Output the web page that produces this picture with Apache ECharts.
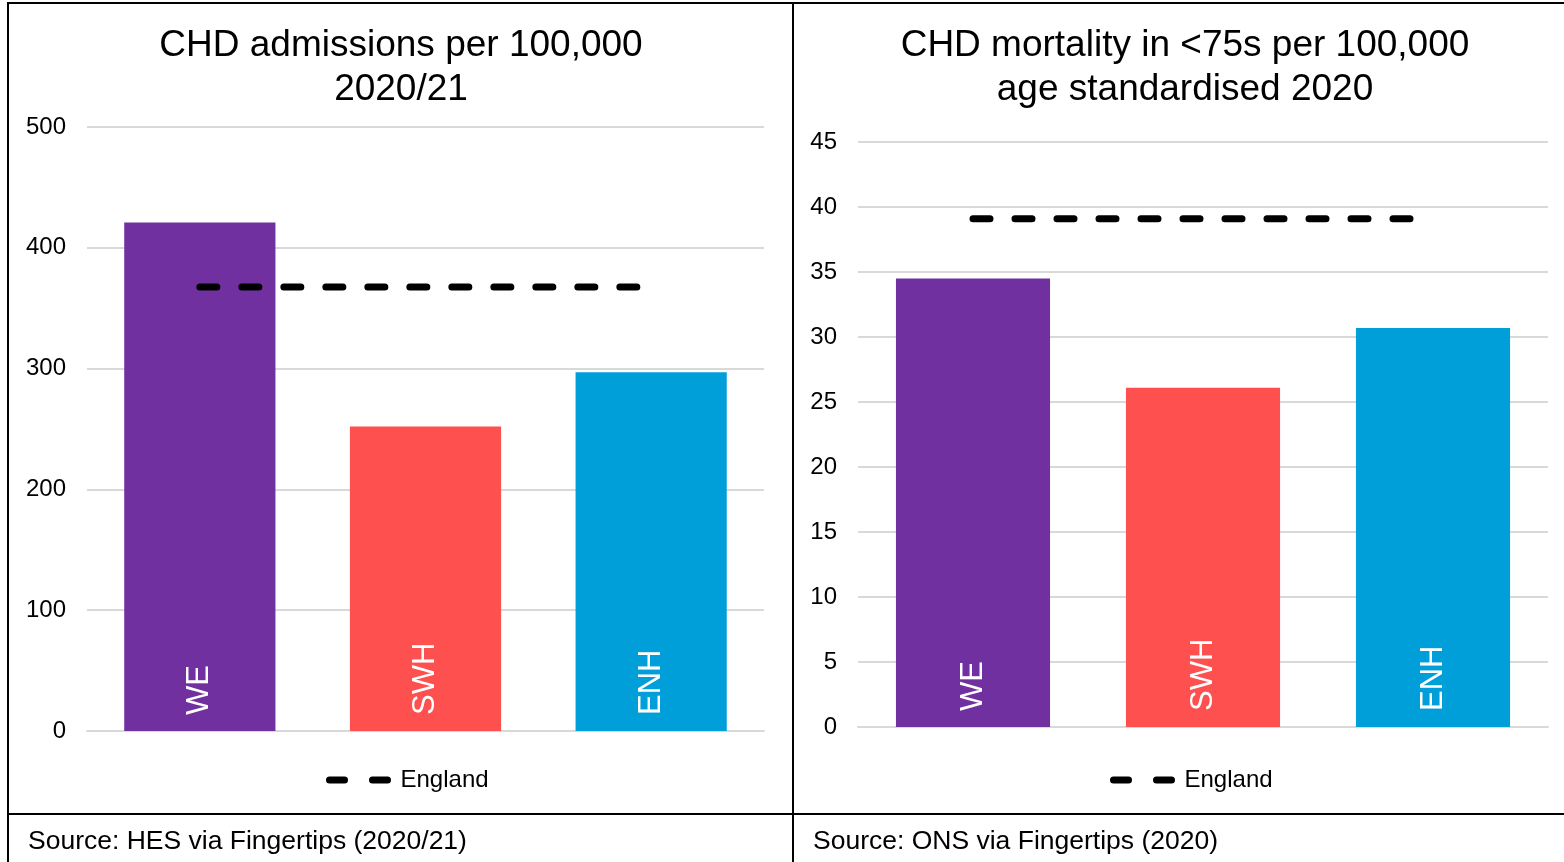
<!DOCTYPE html>
<html>
<head>
<meta charset="utf-8">
<script src="https://cdn.jsdelivr.net/npm/echarts@6/dist/echarts.min.js"></script>
<style>
  html, body { margin: 0; padding: 0; background: #fff; }
  #chart { width: 1564px; height: 862px; }
</style>
</head>
<body>
<div id="chart"></div>
<script>
// data
const categories = ["WE", "SWH", "ENH"];
const barColors = ["#7030A0", "#FF5050", "#009FDA"];

const admissions = [421, 252, 297];
const admissionsEngland = [367.5, 367.5, 367.5];

const mortality = [34.5, 26.1, 30.7];
const mortalityEngland = [39.1, 39.1, 39.1];

const FONT = "'Liberation Sans', Arial, sans-serif";

function barSeries(values, xi) {
  return {
    type: "bar",
    xAxisIndex: xi,
    yAxisIndex: xi,
    barCategoryGap: "33%",
    data: values.map((v, i) => ({ value: v, itemStyle: { color: barColors[i] } })),
    label: {
      show: true,
      formatter: "{b}",
      position: "insideBottom",
      distance: 16,
      rotate: 90,
      align: "left",
      verticalAlign: "middle",
      color: "#fff",
      fontSize: 31,
      fontFamily: FONT,
    },
    silent: true,
  };
}

function lineSeries(values, xi) {
  return {
    type: "line",
    name: "England",
    xAxisIndex: xi,
    yAxisIndex: xi,
    data: values,
    symbol: "none",
    itemStyle: { color: "#000" },
    lineStyle: { color: "#000", width: 7, type: [17, 25], cap: "round" },
    silent: true,
    z: 5,
  };
}

function legend(left) {
  return {
    left: left,
    top: 768,
    padding: 0,
    data: ["England"],
    itemWidth: 58,
    itemHeight: 14,
    itemStyle: { opacity: 0 },
    lineStyle: { color: "#000", width: 7, type: [15, 28], cap: "round" },
    textStyle: { fontSize: 24, fontFamily: FONT, color: "#000", padding: [0, 0, 0, 8] },
    selectedMode: false,
  };
}

let chart = echarts.init(document.getElementById("chart"), null, { renderer: "canvas" });

chart.setOption({
  animation: false,
  title: [
    {
      text: "CHD admissions per 100,000\n2020/21",
      left: 401,
      top: 24,
      padding: 0,
      textAlign: "center",
      textStyle: { fontSize: 37, fontWeight: "normal", fontFamily: FONT, color: "#000", lineHeight: 44 },
    },
    {
      text: "CHD mortality in <75s per 100,000\nage standardised 2020",
      left: 1185,
      top: 24,
      padding: 0,
      textAlign: "center",
      textStyle: { fontSize: 37, fontWeight: "normal", fontFamily: FONT, color: "#000", lineHeight: 44 },
    },
  ],
  legend: [legend(326), legend(1110)],
  grid: [
    { left: 87, top: 127, width: 677, height: 604 },
    { left: 858, top: 142, width: 690, height: 585 },
  ],
  xAxis: [0, 1].map((i) => ({
    type: "category",
    gridIndex: i,
    data: categories,
    axisLine: { lineStyle: { color: "#D9D9D9", width: 2 } },
    axisTick: { show: false },
    axisLabel: { show: false },
  })),
  yAxis: [
    { max: 500, interval: 100 },
    { max: 45, interval: 5 },
  ].map((a, i) => ({
    type: "value",
    gridIndex: i,
    min: 0,
    max: a.max,
    interval: a.interval,
    axisLine: { show: false },
    axisTick: { show: false },
    axisLabel: { fontSize: 24, fontFamily: FONT, color: "#000", margin: 21 },
    splitLine: { lineStyle: { color: "#D9D9D9", width: 2 } },
  })),
  series: [
    barSeries(admissions, 0),
    lineSeries(admissionsEngland, 0),
    barSeries(mortality, 1),
    lineSeries(mortalityEngland, 1),
  ],
  graphic: [
    { type: "line", shape: { x1: 7, y1: 3, x2: 1564, y2: 3 }, style: { stroke: "#000", lineWidth: 2 } },
    { type: "line", shape: { x1: 8, y1: 2, x2: 8, y2: 862 }, style: { stroke: "#000", lineWidth: 2 } },
    { type: "line", shape: { x1: 793, y1: 2, x2: 793, y2: 862 }, style: { stroke: "#000", lineWidth: 2 } },
    { type: "line", shape: { x1: 7, y1: 814, x2: 1564, y2: 814 }, style: { stroke: "#000", lineWidth: 2 } },
    {
      type: "text", left: 28, top: 828,
      style: { text: "Source: HES via Fingertips (2020/21)", font: "26.5px " + FONT, fill: "#000" },
    },
    {
      type: "text", left: 813, top: 828,
      style: { text: "Source: ONS via Fingertips (2020)", font: "26.5px " + FONT, fill: "#000" },
    },
  ],
});
</script>
</body>
</html>
